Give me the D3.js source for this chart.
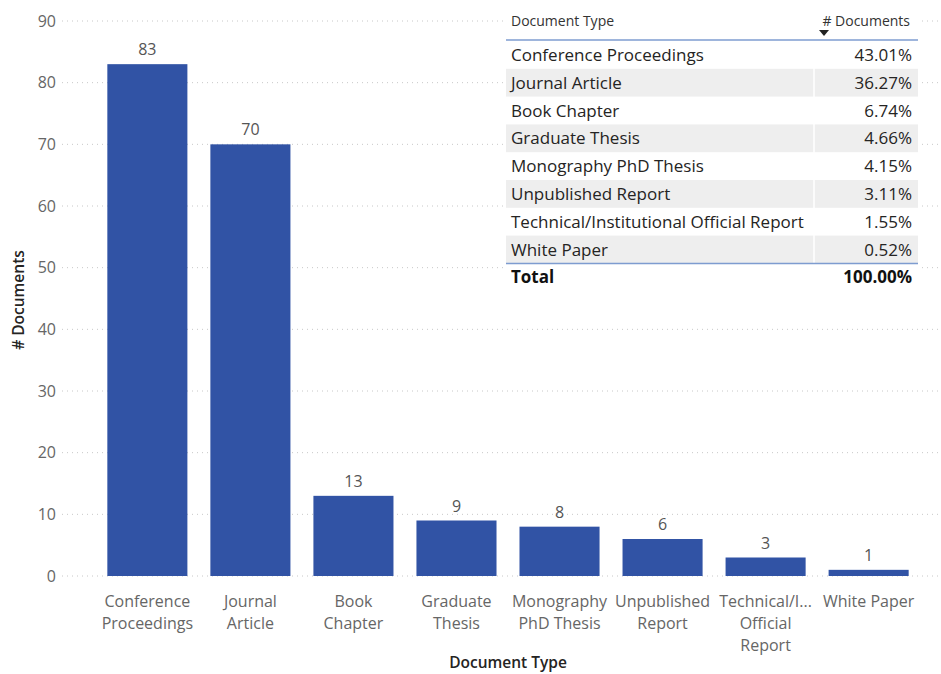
<!DOCTYPE html>
<html><head><meta charset="utf-8">
<script src="https://cdn.jsdelivr.net/npm/d3@7"></script>
<style>body{margin:0;background:#fff;} svg{display:block;}</style>
</head><body>
<svg id="c" width="941" height="674"></svg>
<script>
const categories = ["Conference Proceedings","Journal Article","Book Chapter","Graduate Thesis","Monography PhD Thesis","Unpublished Report","Technical/Institutional Official Report","White Paper"];
const axisLabels = [["Conference","Proceedings"],["Journal","Article"],["Book","Chapter"],["Graduate","Thesis"],["Monography","PhD Thesis"],["Unpublished","Report"],["Technical/I...","Official","Report"],["White Paper"]];
const counts = [83,70,13,9,8,6,3,1];
const percents = ["43.01%","36.27%","6.74%","4.66%","4.15%","3.11%","1.55%","0.52%"];
const yTicks = [0,10,20,30,40,50,60,70,80,90];
const totalLabel = "100.00%";

const FONT = "'Open Sans', 'Noto Sans', sans-serif";
const svg = d3.select("#c");
const x = d3.scaleBand().domain(categories).range([96,920]).paddingInner(0.223).paddingOuter(0.11);
const y = d3.scaleLinear().domain([0,90]).range([576,21]);

// gridlines
svg.append("g").selectAll("line").data(yTicks).join("line")
  .attr("x1",62).attr("x2",940).attr("y1",d=>y(d)).attr("y2",d=>y(d))
  .attr("stroke","#c8c8c8").attr("stroke-width",1).attr("stroke-dasharray","1,4");

// y axis
const ya = svg.append("g").attr("transform","translate(56,0)")
  .call(d3.axisLeft(y).tickValues(yTicks).tickSize(0).tickPadding(0));
ya.select(".domain").remove();
ya.selectAll("text").attr("font-family",FONT).attr("font-size",16).attr("fill","#666");

svg.append("text").attr("transform","translate(24,300) rotate(-90)")
  .attr("text-anchor","middle").attr("font-family",FONT).attr("font-size",15.5).attr("font-weight",600).attr("fill","#252423")
  .text("# Documents");

// bars
svg.append("g").selectAll("rect").data(counts).join("rect")
  .attr("x",(d,i)=>x(categories[i])).attr("width",x.bandwidth())
  .attr("y",d=>y(d)).attr("height",d=>y(0)-y(d)).attr("fill","#3153a5");

svg.append("g").selectAll("text").data(counts).join("text")
  .attr("x",(d,i)=>x(categories[i])+x.bandwidth()/2).attr("y",d=>y(d)-9)
  .attr("text-anchor","middle").attr("font-family",FONT).attr("font-size",16).attr("fill","#555")
  .text(d=>d);

// x axis labels
const xa = svg.append("g");
categories.forEach((c,i)=>{
  const t = xa.append("text").attr("x",x(c)+x.bandwidth()/2).attr("y",607)
    .attr("text-anchor","middle").attr("font-family",FONT).attr("font-size",16).attr("fill","#666");
  axisLabels[i].forEach((ln,j)=>t.append("tspan").attr("x",x(c)+x.bandwidth()/2).attr("y",607+j*22).text(ln));
});
svg.append("text").attr("x",508).attr("y",668).attr("text-anchor","middle")
  .attr("font-family",FONT).attr("font-size",15.5).attr("font-weight",600).attr("fill","#252423").text("Document Type");

// table
const tL=506, tR=918, tDiv=814, rowH=27.8, row0=41;
const tb = svg.append("g");
tb.append("rect").attr("x",tL).attr("y",0).attr("width",tR-tL).attr("height",292).attr("fill","#fff");
categories.forEach((c,i)=>{
  const ry=row0+i*rowH;
  if(i%2===1) tb.append("rect").attr("x",tL).attr("y",ry).attr("width",tR-tL).attr("height",rowH).attr("fill","#eeeeee");
});
tb.append("line").attr("x1",tDiv).attr("x2",tDiv).attr("y1",0).attr("y2",row0+8*rowH).attr("stroke","#fff").attr("stroke-width",1.5);
tb.append("text").attr("x",511).attr("y",26).attr("font-family",FONT).attr("font-size",14).attr("fill","#333").text("Document Type");
tb.append("text").attr("x",910).attr("y",26).attr("text-anchor","end").attr("font-family",FONT).attr("font-size",14).attr("fill","#333").text("# Documents");
tb.append("path").attr("d","M819,30 L829,30 L824,36 Z").attr("fill","#222");
tb.append("line").attr("x1",tL).attr("x2",tR).attr("y1",40).attr("y2",40).attr("stroke","#7e9cd0").attr("stroke-width",1.5);
categories.forEach((c,i)=>{
  const cy=row0+i*rowH+rowH/2+6;
  tb.append("text").attr("x",511).attr("y",cy).attr("font-family",FONT).attr("font-size",17).attr("fill","#252423").text(c);
  tb.append("text").attr("x",912).attr("y",cy).attr("text-anchor","end").attr("font-family",FONT).attr("font-size",17).attr("fill","#252423").text(percents[i]);
});
tb.append("line").attr("x1",tL).attr("x2",tR).attr("y1",row0+8*rowH).attr("y2",row0+8*rowH).attr("stroke","#7e9cd0").attr("stroke-width",1.5);
const ty=row0+8*rowH+rowH/2+6;
tb.append("text").attr("x",511).attr("y",ty).attr("font-family",FONT).attr("font-size",17).attr("font-weight","bold").attr("fill","#111").text("Total");
tb.append("text").attr("x",912).attr("y",ty).attr("text-anchor","end").attr("font-family",FONT).attr("font-size",17).attr("font-weight","bold").attr("fill","#111").text(totalLabel);
</script>
</body></html>
